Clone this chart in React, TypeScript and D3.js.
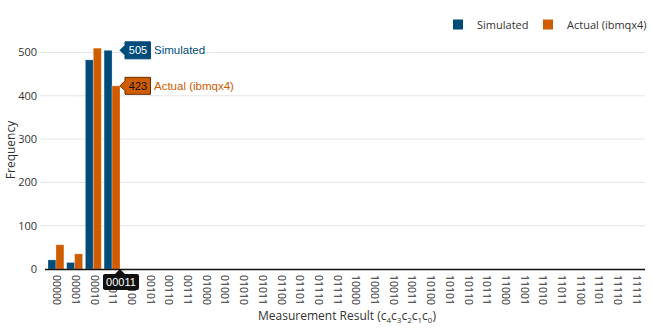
import React from "react";
import * as d3 from "d3";

// measurement outcomes, c4c3c2c1c0
const outcomes = d3.range(32).map((i) => i.toString(2).padStart(5, "0"));

const simulatedCounts = [21, 15, 483, 505, 0, 0, 0, 0, 0, 0, 0, 0, 0, 0, 0, 0,
  0, 0, 0, 0, 0, 0, 0, 0, 0, 0, 0, 0, 0, 0, 0, 0];
const actualCounts = [56, 35, 510, 423, 0, 0, 0, 0, 0, 0, 0, 0, 0, 0, 0, 0,
  0, 0, 0, 0, 0, 0, 0, 0, 0, 0, 0, 0, 0, 0, 0, 0];

const seriesNames = ["Simulated", "Actual (ibmqx4)"];
const yTicks = [0, 100, 200, 300, 400, 500];
const hovered = "00011";

const W = 653;
const H = 329;
const COLORS = ["#004b7a", "#d05c00"];
const FONT = "'Open Sans', sans-serif";
const ARIAL = "'Liberation Sans', Arial, sans-serif";

export default function App() {
  const x = d3
    .scaleBand<string>()
    .domain(outcomes)
    .range([46.6, 645])
    .paddingInner(0.15)
    .paddingOuter(0.075);
  const xs = d3.scaleBand<string>().domain(seriesNames).range([0, x.bandwidth()]);
  const y = d3.scaleLinear().domain([0, 500]).range([269, 52.5]);

  const rows = outcomes.map((o, i) => ({ o, vals: [simulatedCounts[i], actualCounts[i]] }));

  const hi = outcomes.indexOf(hovered);
  const tipX = (x(hovered) as number) + x.bandwidth();

  return (
    <svg width={W} height={H} style={{ position: "absolute", left: 0, top: 0, background: "#fff" }}>
      {/* gridlines */}
      {yTicks.map((t) => (
        <g key={t}>
          {t > 0 && <line x1={40} x2={645} y1={y(t)} y2={y(t)} stroke="#e4e4e4" strokeWidth={1} />}
          <text x={37} y={y(t)} dy="0.35em" textAnchor="end" fontFamily={FONT} fontSize={11} fill="#333">
            {t}
          </text>
        </g>
      ))}

      {/* bars */}
      {rows.map((r) => (
        <g key={r.o} transform={`translate(${x(r.o)},0)`}>
          {r.vals.map((v, j) =>
            v > 0 ? (
              <rect
                key={j}
                x={xs(seriesNames[j])}
                y={y(v)}
                width={xs.bandwidth()}
                height={y(0) - y(v)}
                fill={COLORS[j]}
                stroke="rgba(255,255,255,0.25)"
                strokeWidth={1}
              />
            ) : null
          )}
        </g>
      ))}

      {/* x axis line */}
      <line x1={45} x2={645} y1={269.5} y2={269.5} stroke="#111" strokeWidth={1.3} />

      {/* x tick labels */}
      {outcomes.map((o) => (
        <text
          key={o}
          transform={`translate(${(x(o) as number) + x.bandwidth() / 2},275) rotate(90)`}
          dominantBaseline="middle"
          fontFamily={FONT}
          fontSize={10.5}
          fill="#333"
        >
          {o}
        </text>
      ))}

      {/* axis titles */}
      <text
        transform="translate(15,150) rotate(-90)"
        textAnchor="middle"
        fontFamily={FONT}
        fontSize={12}
        fill="#333"
      >
        Frequency
      </text>
      <text x={347} y={320} textAnchor="middle" fontFamily={FONT} fontSize={12} fill="#333">
        Measurement Result (c
        <tspan fontSize={8} dy={3}>4</tspan>
        <tspan dy={-3}>c</tspan>
        <tspan fontSize={8} dy={3}>3</tspan>
        <tspan dy={-3}>c</tspan>
        <tspan fontSize={8} dy={3}>2</tspan>
        <tspan dy={-3}>c</tspan>
        <tspan fontSize={8} dy={3}>1</tspan>
        <tspan dy={-3}>c</tspan>
        <tspan fontSize={8} dy={3}>0</tspan>
        <tspan dy={-3}>)</tspan>
      </text>

      {/* legend */}
      {seriesNames.map((s, j) => {
        const lx = j === 0 ? 453 : 543;
        return (
          <g key={s}>
            <rect x={lx} y={19.5} width={10} height={10} fill={COLORS[j]} />
            <text x={lx + 24} y={28.5} fontFamily={FONT} fontSize={11} fill="#333">
              {s}
            </text>
          </g>
        );
      })}

      {/* hover labels */}
      {seriesNames.map((s, j) => {
        const v = rows[hi].vals[j];
        const ty = y(v);
        const bx = tipX + 5;
        return (
          <g key={s}>
            <rect x={bx + 25} y={ty - 8} width={j === 0 ? 52 : 80} height={16} fill="#fff" />
            <path
              d={`M${tipX},${ty} L${bx},${ty - 5} L${bx},${ty - 8.5} L${bx + 25.5},${ty - 8.5} L${bx + 25.5},${ty + 8.5} L${bx},${ty + 8.5} L${bx},${ty + 5} Z`}
              fill={COLORS[j]}
              stroke={j === 0 ? COLORS[j] : "#6a2e00"}
              strokeWidth={1}
            />
            <text x={bx + 13} y={ty} dy="0.36em" textAnchor="middle" fontFamily={ARIAL} fontSize={11} fill={j === 0 ? "#fff" : "#111"}>
              {v}
            </text>
            <text x={bx + 29} y={ty} dy="0.36em" fontFamily={ARIAL} fontSize={11.5} fill={COLORS[j]}>
              {s}
            </text>
          </g>
        );
      })}

      {/* crosshair label */}
      <path
        d={`M${tipX},269 L${tipX + 5},274 L${tipX + 17},274 Q${tipX + 19},274 ${tipX + 19},276 L${tipX + 19},288 Q${tipX + 19},290 ${tipX + 17},290 L${tipX - 15},290 Q${tipX - 17},290 ${tipX - 17},288 L${tipX - 17},276 Q${tipX - 17},274 ${tipX - 15},274 L${tipX - 5},274 Z`}
        fill="#111"
      />
      <text x={tipX + 1} y={282} dy="0.36em" textAnchor="middle" fontFamily={ARIAL} fontSize={11} fill="#fff">
        {hovered}
      </text>
    </svg>
  );
}
